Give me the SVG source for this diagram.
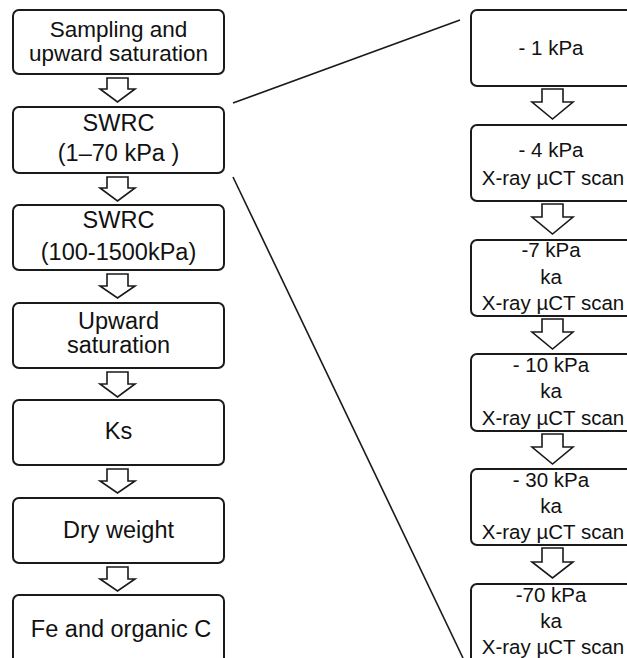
<svg xmlns="http://www.w3.org/2000/svg" width="627" height="658" viewBox="0 0 627 658">
<style>
.box{fill:#fff;stroke:#1a1a1a;stroke-width:2}
.arr{fill:#fff;stroke:#1a1a1a;stroke-width:1.6;stroke-linejoin:miter}
.tl{font-family:"Liberation Sans",Arial,sans-serif;font-size:23.5px;fill:#111;text-anchor:middle}
.tr{font-family:"Liberation Sans",Arial,sans-serif;font-size:20.5px;fill:#111;text-anchor:middle}
.ln{stroke:#1a1a1a;stroke-width:1.6;fill:none}
</style>
<rect width="627" height="658" fill="#fff"/>
<g id="connectors">
<line class="ln" x1="233" y1="103" x2="460" y2="20"/>
<line class="ln" x1="233" y1="177" x2="463" y2="658"/>
<path class="arr" d="M107,78H128V89H135L117.5,102L100,89H107Z"/>
<path class="arr" d="M107,177H128V188H135L117.5,201L100,188H107Z"/>
<path class="arr" d="M107,274H128V286H135L117.5,298L100,286H107Z"/>
<path class="arr" d="M107,372H128V384H135L117.5,397L100,384H107Z"/>
<path class="arr" d="M107,469H128V481H135L117.5,493L100,481H107Z"/>
<path class="arr" d="M107,567H128V579H135L117.5,591L100,579H107Z"/>
<path class="arr" d="M542,89H563V102H573L552.5,119L532,102H542Z"/>
<path class="arr" d="M542,204H563V217H573L552.5,234L532,217H542Z"/>
<path class="arr" d="M542,319H563V332H573L552.5,349L532,332H542Z"/>
<path class="arr" d="M542,434H563V447H573L552.5,464L532,447H542Z"/>
<path class="arr" d="M542,548H563V562H573L552.5,578L532,562H542Z"/>
</g>
<g id="n1"><rect class="box" x="13" y="10" width="211" height="64" rx="6"/>
<text class="tl" x="118.5" y="37" style="font-size:22.5px">Sampling and</text><text class="tl" x="118.5" y="61" style="font-size:22.5px">upward saturation</text></g>
<g id="n2"><rect class="box" x="13" y="107" width="211" height="66" rx="6"/>
<text class="tl" x="118.5" y="131">SWRC</text><text class="tl" x="118.5" y="161">(1–70 kPa )</text></g>
<g id="n3"><rect class="box" x="13" y="205" width="211" height="65" rx="6"/>
<text class="tl" x="118.5" y="228">SWRC</text><text class="tl" x="118.5" y="260">(100-1500kPa)</text></g>
<g id="n4"><rect class="box" x="13" y="303" width="211" height="65" rx="6"/>
<text class="tl" x="118.5" y="329">Upward</text><text class="tl" x="118.5" y="353">saturation</text></g>
<g id="n5"><rect class="box" x="13" y="400" width="211" height="65" rx="6"/>
<text class="tl" x="118.5" y="439">Ks</text></g>
<g id="n6"><rect class="box" x="13" y="498" width="211" height="65" rx="6"/>
<text class="tl" x="118.5" y="538">Dry weight</text></g>
<g id="n7"><rect class="box" x="13" y="595" width="211" height="75" rx="6"/>
<text class="tl" x="121" y="637">Fe and organic C</text></g>
<g id="r1"><rect class="box" x="471" y="10" width="170" height="76" rx="6"/>
<text class="tr" x="551" y="55">- 1 kPa</text></g>
<g id="r2"><rect class="box" x="471" y="125" width="170" height="76" rx="6"/>
<text class="tr" x="551" y="157">- 4 kPa</text><text class="tr" x="553" y="185">X-ray µCT scan</text></g>
<g id="r3"><rect class="box" x="471" y="240" width="170" height="76" rx="6"/>
<text class="tr" x="551" y="257">-7 kPa</text><text class="tr" x="551" y="284">ka</text><text class="tr" x="553" y="310">X-ray µCT scan</text></g>
<g id="r4"><rect class="box" x="471" y="354" width="170" height="77" rx="6"/>
<text class="tr" x="551" y="372">- 10 kPa</text><text class="tr" x="551" y="398">ka</text><text class="tr" x="553" y="425">X-ray µCT scan</text></g>
<g id="r5"><rect class="box" x="471" y="469" width="170" height="76" rx="6"/>
<text class="tr" x="551" y="487">- 30 kPa</text><text class="tr" x="551" y="513">ka</text><text class="tr" x="553" y="539">X-ray µCT scan</text></g>
<g id="r6"><rect class="box" x="471" y="584" width="170" height="90" rx="6"/>
<text class="tr" x="551" y="602">-70 kPa</text><text class="tr" x="551" y="628">ka</text><text class="tr" x="553" y="654">X-ray µCT scan</text></g>
</svg>
